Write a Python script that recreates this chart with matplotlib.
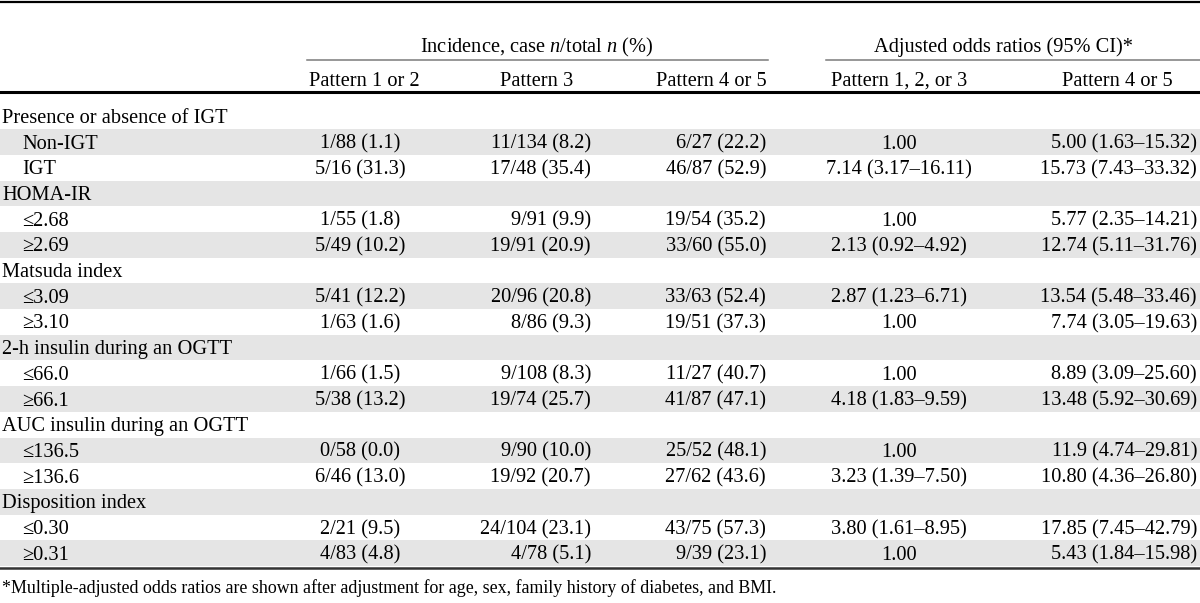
import matplotlib.pyplot as plt
from matplotlib.patches import Rectangle

plt.rcParams["font.family"] = ["Liberation Serif", "DejaVu Serif"]
plt.rcParams["mathtext.fontset"] = "custom"
plt.rcParams["mathtext.rm"] = "Liberation Serif"
plt.rcParams["mathtext.it"] = "Liberation Serif:italic"

# table content
row_labels = [
    "Presence or absence of IGT", "Non-IGT", "IGT",
    "HOMA-IR", "≤2.68", "≥2.69",
    "Matsuda index", "≤3.09", "≥3.10",
    "2-h insulin during an OGTT", "≤66.0", "≥66.1",
    "AUC insulin during an OGTT", "≤136.5", "≥136.6",
    "Disposition index", "≤0.30", "≥0.31",
]
is_group = [i % 3 == 0 for i in range(len(row_labels))]

pattern_12 = ["", "1/88 (1.1)", "5/16 (31.3)", "", "1/55 (1.8)", "5/49 (10.2)",
              "", "5/41 (12.2)", "1/63 (1.6)", "", "1/66 (1.5)", "5/38 (13.2)",
              "", "0/58 (0.0)", "6/46 (13.0)", "", "2/21 (9.5)", "4/83 (4.8)"]
pattern_3 = ["", "11/134 (8.2)", "17/48 (35.4)", "", "9/91 (9.9)", "19/91 (20.9)",
             "", "20/96 (20.8)", "8/86 (9.3)", "", "9/108 (8.3)", "19/74 (25.7)",
             "", "9/90 (10.0)", "19/92 (20.7)", "", "24/104 (23.1)", "4/78 (5.1)"]
pattern_45 = ["", "6/27 (22.2)", "46/87 (52.9)", "", "19/54 (35.2)", "33/60 (55.0)",
              "", "33/63 (52.4)", "19/51 (37.3)", "", "11/27 (40.7)", "41/87 (47.1)",
              "", "25/52 (48.1)", "27/62 (43.6)", "", "43/75 (57.3)", "9/39 (23.1)"]
or_123 = ["", "1.00", "7.14 (3.17–16.11)", "", "1.00", "2.13 (0.92–4.92)",
          "", "2.87 (1.23–6.71)", "1.00", "", "1.00", "4.18 (1.83–9.59)",
          "", "1.00", "3.23 (1.39–7.50)", "", "3.80 (1.61–8.95)", "1.00"]
or_45 = ["", "5.00 (1.63–15.32)", "15.73 (7.43–33.32)", "", "5.77 (2.35–14.21)",
         "12.74 (5.11–31.76)", "", "13.54 (5.48–33.46)", "7.74 (3.05–19.63)", "",
         "8.89 (3.09–25.60)", "13.48 (5.92–30.69)", "", "11.9 (4.74–29.81)",
         "10.80 (4.36–26.80)", "", "17.85 (7.45–42.79)", "5.43 (1.84–15.98)"]

col_headers = ["Pattern 1 or 2", "Pattern 3", "Pattern 4 or 5",
               "Pattern 1, 2, or 3", "Pattern 4 or 5"]
spanners = ["Incidence, case $n$/total $n$ (%)", "Adjusted odds ratios (95% CI)*"]
footnote = ("*Multiple-adjusted odds ratios are shown after adjustment for age, sex, "
            "family history of diabetes, and BMI.")

W, H = 1200, 603
fig = plt.figure(figsize=(W / 100, H / 100), dpi=100)
ax = fig.add_axes([0, 0, 1, 1])
ax.set_xlim(0, W)
ax.set_ylim(H, 0)
ax.axis("off")

fs = 14.7
row_top = 103.5
row_h = 25.7

# column placement: values (x, ha), header (x, ha)
columns = [
    (pattern_12, 360, "center", 364, "center"),
    (pattern_3, 591, "right", 537, "center"),
    (pattern_45, 766, "right", 767, "right"),
    (or_123, 899, "center", 899, "center"),
    (or_45, 1197, "right", 1117, "center"),
]

# rules
ax.plot([0, W], [2, 2], color="black", lw=1.6)
ax.plot([307, 768], [60, 60], color="#7a7a7a", lw=1.1)
ax.plot([826, W], [60, 60], color="#7a7a7a", lw=1.1)
ax.plot([0, W], [92, 92], color="black", lw=2.2)

ax.text(537, 52, spanners[0], fontsize=fs, ha="center", va="baseline")
ax.text(1003, 52, spanners[1], fontsize=fs, ha="center", va="baseline")
for (vals, x, ha, hx, hha), head in zip(columns, col_headers):
    ax.text(hx, 86, head, fontsize=fs, ha=hha, va="baseline")

for i, label in enumerate(row_labels):
    top = row_top + i * row_h
    if i % 2 == 1:
        ax.add_patch(Rectangle((0, top), W, row_h, facecolor="#e5e5e5",
                               edgecolor="none", zorder=0))
    base = top + row_h / 2 + 6.5
    ax.text(2 if is_group[i] else 22, base, label, fontsize=fs,
            ha="left", va="baseline")
    for vals, x, ha, hx, hha in columns:
        if vals[i]:
            ax.text(x, base, vals[i], fontsize=fs, ha=ha, va="baseline")

bottom = row_top + len(row_labels) * row_h
ax.plot([0, W], [bottom + 1.5, bottom + 1.5], color="#333333", lw=1.8)
ax.text(2, 593, footnote, fontsize=12.9, ha="left", va="baseline")

fig.savefig("out.png", dpi=100)
